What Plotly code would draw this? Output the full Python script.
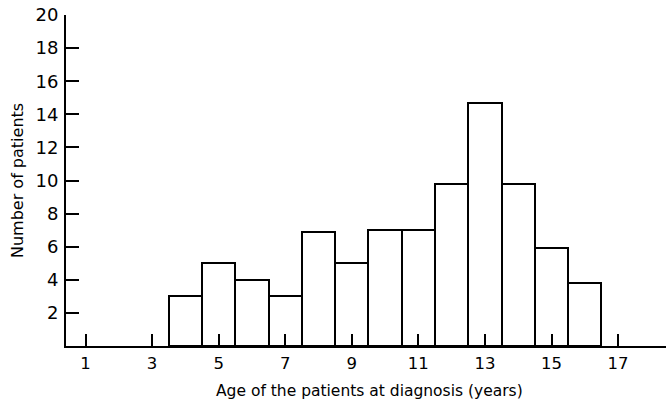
import plotly.graph_objects as go

ages = [4, 5, 6, 7, 8, 9, 10, 11, 12, 13, 14, 15, 16]
patients = [3, 5, 4, 3, 6.9, 5, 7, 7, 9.8, 14.7, 9.8, 5.9, 3.8]
x_ticks = [1, 3, 5, 7, 9, 11, 13, 15, 17]
y_ticks = [2, 4, 6, 8, 10, 12, 14, 16, 18, 20]

FONT = "DejaVu Sans"

fig = go.Figure()
fig.add_trace(go.Bar(
    x=ages, y=patients, width=1,
    marker=dict(color="white", line=dict(color="black", width=2)),
    showlegend=False,
))

fig.update_layout(
    width=666, height=402,
    margin=dict(l=66, r=0, t=15, b=56),
    paper_bgcolor="white", plot_bgcolor="white",
    font=dict(family=FONT, color="black", size=16),
    bargap=0,
    xaxis=dict(
        range=[0.414, 18.44], tickmode="array", tickvals=x_ticks,
        ticktext=[str(v) for v in x_ticks],
        ticks="inside", ticklen=12, tickwidth=1.5, tickcolor="black",
        showline=True, linecolor="black", linewidth=2,
        showgrid=False, zeroline=False,
        tickfont=dict(size=16.5), ticklabelstandoff=1,
    ),
    yaxis=dict(
        range=[0, 20], tickmode="array", tickvals=y_ticks,
        ticktext=[str(v) for v in y_ticks],
        ticks="inside", ticklen=13, tickwidth=1.5, tickcolor="black",
        showline=True, linecolor="black", linewidth=2,
        showgrid=False, zeroline=False,
        tickfont=dict(size=18), ticklabelstandoff=2,
    ),
    annotations=[
        dict(text="Age of the patients at diagnosis (years)", xref="paper", yref="paper",
             x=(369 - 66) / 600, y=(346 - 391) / 331, xanchor="center", yanchor="middle",
             showarrow=False, font=dict(size=15.5, family=FONT)),
        dict(text="Number of patients", xref="paper", yref="paper",
             x=-49 / 600, y=(346 - 181) / 331, xanchor="center", yanchor="middle",
             textangle=-90, showarrow=False, font=dict(size=16, family=FONT)),
    ],
)

fig.write_html("out.html")
